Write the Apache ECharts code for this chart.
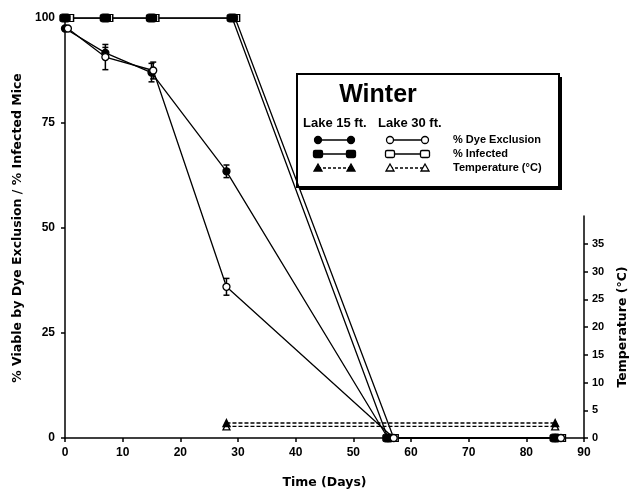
<!DOCTYPE html>
<html>
<head>
<meta charset="utf-8">
<script src="https://cdn.jsdelivr.net/npm/echarts@6/dist/echarts.min.js"></script>
<style>
  html, body { margin: 0; padding: 0; background: #fff; }
  #chart { width: 634px; height: 489px; }
</style>
</head>
<body>
<div id="chart"></div>
<script>
// values
const dyeDays15 = [0, 7, 15, 28, 56, 85];
const dye15 = [97.5, 91.7, 87, 63.5, 0, 0];
const dyeErr15 = [0, 1.3, 2.2, 1.5, 0, 0];

const dyeDays30 = [0.5, 7, 15.3, 28, 57, 86];
const dye30 = [97.5, 90.7, 87.5, 36, 0, 0];
const dyeErr30 = [0, 3, 2, 2, 0, 0];

const infDays15 = [0, 7, 15, 29, 56, 85];
const inf15 = [100, 100, 100, 100, 0, 0];
const infDays30 = [0.7, 7.5, 15.5, 29.5, 57, 86];
const inf30 = [100, 100, 100, 100, 0, 0];

const tempDays = [28, 85];
const temp15 = [2.7, 2.7];
const temp30 = [2.1, 2.1];

const tempTicks = [0, 5, 10, 15, 20, 25, 30, 35];

const FONT = 'Liberation Sans';

function pairs(xs, ys) {
  return xs.map((x, i) => [x, ys[i]]);
}
function errData(xs, ys, es) {
  return xs.map((x, i) => [x, ys[i] - es[i], ys[i] + es[i]]).filter((d, i) => es[i] > 0);
}

function renderErr(params, api) {
  const x = api.value(0);
  const lo = api.coord([x, api.value(1)]);
  const hi = api.coord([x, api.value(2)]);
  const s = { stroke: '#000', lineWidth: 1.5 };
  return {
    type: 'group',
    children: [
      { type: 'line', shape: { x1: lo[0], y1: lo[1], x2: hi[0], y2: hi[1] }, style: s },
      { type: 'line', shape: { x1: lo[0] - 3, y1: lo[1], x2: lo[0] + 3, y2: lo[1] }, style: s },
      { type: 'line', shape: { x1: hi[0] - 3, y1: hi[1], x2: hi[0] + 3, y2: hi[1] }, style: s }
    ]
  };
}

const chart = echarts.init(document.getElementById('chart'));

const lineBase = {
  type: 'line',
  xAxisIndex: 0,
  yAxisIndex: 0,
  lineStyle: { color: '#000', width: 1.3 },
  itemStyle: { color: '#000', borderColor: '#000', borderWidth: 1.3 },
  symbolSize: 7,
  showAllSymbol: true,
  animation: false
};

// legend key: a line with a symbol at each end, for both lake columns
function keyRow(y, sym, dashed) {
  const out = [];
  const cols = [[318, 351, true], [390, 425, false]];
  cols.forEach(([x1, x2, f]) => {
    out.push({
      type: 'line', shape: { x1: x1, y1: y, x2: x2, y2: y },
      style: { stroke: '#000', lineWidth: 1.3, lineDash: dashed ? [3, 2] : null }
    });
    [x1, x2].forEach(cx => {
      const st = { fill: f ? '#000' : '#fff', stroke: '#000', lineWidth: 1.3 };
      if (sym === 'circle') {
        out.push({ type: 'circle', shape: { cx: cx, cy: y, r: 3.5 }, style: st });
      } else if (sym === 'rect') {
        out.push({ type: 'rect', shape: { x: cx - 4.5, y: y - 3.5, width: 9, height: 7, r: 1.5 }, style: st });
      } else {
        out.push({ type: 'polygon', shape: { points: [[cx, y - 4], [cx - 4, y + 3], [cx + 4, y + 3]] }, style: st });
      }
    });
  });
  return out;
}

const labelStyle = { fontFamily: FONT, fontWeight: 'bold', fontSize: 12, color: '#000' };
const nameStyle = { fontFamily: 'DejaVu Sans', fontWeight: 'bold', fontSize: 12.5, color: '#000' };

chart.setOption({
  backgroundColor: '#fff',
  animation: false,
  grid: [
    { left: 65, right: 50, top: 18, bottom: 51, outerBoundsMode: 'none', containLabel: false },
    { left: 65, right: 50, top: 216, bottom: 51, outerBoundsMode: 'none', containLabel: false }
  ],
  xAxis: [
    {
      type: 'value', gridIndex: 0, min: 0, max: 90, interval: 10,
      name: 'Time (Days)', nameLocation: 'middle', nameGap: 38,
      nameTextStyle: nameStyle,
      axisLine: { lineStyle: { color: '#000', width: 1.5 } },
      axisTick: { length: 4, lineStyle: { color: '#000', width: 1.5 } },
      axisLabel: Object.assign({ margin: 9 }, labelStyle),
      splitLine: { show: false }
    },
    {
      type: 'value', gridIndex: 1, min: 0, max: 90, show: false, splitLine: { show: false }
    }
  ],
  yAxis: [
    {
      type: 'value', gridIndex: 0, min: 0, max: 100, interval: 25,
      name: '% Viable by Dye Exclusion / % Infected Mice', nameLocation: 'middle', nameGap: 34,
      nameRotate: 90,
      nameTextStyle: nameStyle,
      axisLine: { show: true, onZero: false, lineStyle: { color: '#000', width: 1.5 } },
      axisTick: { show: true, length: 4, lineStyle: { color: '#000', width: 1.5 } },
      axisLabel: Object.assign({ margin: 10 }, labelStyle),
      splitLine: { show: false }
    },
    {
      type: 'value', gridIndex: 1, position: 'right', min: 0, max: 40, interval: 5,
      name: 'Temperature (°C)', nameLocation: 'middle', nameGap: 32, nameRotate: 90,
      nameTextStyle: nameStyle,
      axisLine: { show: true, onZero: false, lineStyle: { color: '#000', width: 1.5 } },
      axisTick: { show: true, length: 4, customValues: tempTicks,
                  lineStyle: { color: '#000', width: 1.5 } },
      axisLabel: Object.assign({ margin: 8, customValues: tempTicks }, labelStyle, { fontSize: 11 }),
      splitLine: { show: false }
    }
  ],
  series: [
    Object.assign({}, lineBase, {
      name: 'Lake 30 ft. % Infected', symbol: 'rect', symbolSize: [9, 7],
      itemStyle: { color: '#fff', borderColor: '#000', borderWidth: 1.3 },
      data: pairs(infDays30, inf30)
    }),
    Object.assign({}, lineBase, {
      name: 'Lake 15 ft. % Infected', symbol: 'roundRect', symbolSize: [10, 8],
      data: pairs(infDays15, inf15)
    }),
    Object.assign({}, lineBase, {
      name: 'Lake 15 ft. % Dye Exclusion', symbol: 'circle',
      data: pairs(dyeDays15, dye15)
    }),
    Object.assign({}, lineBase, {
      name: 'Lake 30 ft. % Dye Exclusion', symbol: 'circle',
      itemStyle: { color: '#fff', borderColor: '#000', borderWidth: 1.3 },
      data: pairs(dyeDays30, dye30)
    }),
    {
      type: 'custom', name: 'err15', xAxisIndex: 0, yAxisIndex: 0,
      renderItem: renderErr, data: errData(dyeDays15, dye15, dyeErr15), z: 3
    },
    {
      type: 'custom', name: 'err30', xAxisIndex: 0, yAxisIndex: 0,
      renderItem: renderErr, data: errData(dyeDays30, dye30, dyeErr30), z: 3
    },
    Object.assign({}, lineBase, {
      name: 'Lake 30 ft. Temperature', xAxisIndex: 1, yAxisIndex: 1, symbol: 'triangle',
      itemStyle: { color: '#fff', borderColor: '#000', borderWidth: 1.3 },
      lineStyle: { color: '#000', width: 1.3, type: [4, 2] },
      data: pairs(tempDays, temp30)
    }),
    Object.assign({}, lineBase, {
      name: 'Lake 15 ft. Temperature', xAxisIndex: 1, yAxisIndex: 1, symbol: 'triangle',
      lineStyle: { color: '#000', width: 1.3, type: [4, 2] },
      data: pairs(tempDays, temp15)
    })
  ],
  graphic: [
    {
      type: 'group',
      children: [
        { type: 'rect', shape: { x: 300, y: 77, width: 262, height: 113 },
          style: { fill: '#000' } },
        { type: 'rect', shape: { x: 297, y: 74, width: 262, height: 113 },
          style: { fill: '#fff', stroke: '#000', lineWidth: 2 } },
        { type: 'text', x: 378, y: 95,
          style: { text: 'Winter', font: 'bold 25px "Liberation Sans"', fill: '#000',
                   align: 'center', verticalAlign: 'middle' } },
        { type: 'text', x: 303, y: 123,
          style: { text: 'Lake 15 ft.', font: 'bold 13px "Liberation Sans"', fill: '#000',
                   verticalAlign: 'middle' } },
        { type: 'text', x: 378, y: 123,
          style: { text: 'Lake 30 ft.', font: 'bold 13px "Liberation Sans"', fill: '#000',
                   verticalAlign: 'middle' } },
        { type: 'text', x: 453, y: 140,
          style: { text: '% Dye Exclusion', font: 'bold 11px "Liberation Sans"', fill: '#000',
                   verticalAlign: 'middle' } },
        { type: 'text', x: 453, y: 154,
          style: { text: '% Infected', font: 'bold 11px "Liberation Sans"', fill: '#000',
                   verticalAlign: 'middle' } },
        { type: 'text', x: 453, y: 168,
          style: { text: 'Temperature (°C)', font: 'bold 11px "Liberation Sans"', fill: '#000',
                   verticalAlign: 'middle' } }
      ].concat(keyRow(140, 'circle', false))
       .concat(keyRow(154, 'rect', false))
       .concat(keyRow(168, 'triangle', true))
    }
  ]
});
</script>
</body>
</html>
